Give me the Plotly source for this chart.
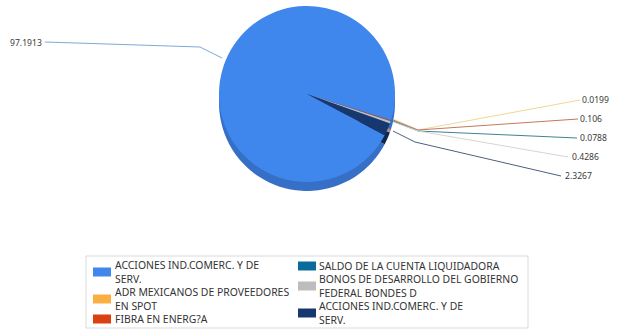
import plotly.graph_objects as go

W, H = 620, 329

# Data
categories = ["ACCIONES IND.COMERC. Y DE SERV.", "ADR MEXICANOS DE PROVEEDORES EN SPOT",
              "FIBRA EN ENERG?A", "SALDO DE LA CUENTA LIQUIDADORA",
              "BONOS DE DESARROLLO DEL GOBIERNO FEDERAL BONDES D",
              "ACCIONES IND.COMERC. Y DE SERV. "]
values = [97.1913, 0.0199, 0.106, 0.0788, 0.4286, 2.3267]
value_labels = ["97.1913", "0.0199", "0.106", "0.0788", "0.4286", "2.3267"]
legend_labels = ["ACCIONES IND.COMERC. Y DE<br>SERV.", "ADR MEXICANOS DE PROVEEDORES<br>EN SPOT",
                 "FIBRA EN ENERG?A", "SALDO DE LA CUENTA LIQUIDADORA",
                 "BONOS DE DESARROLLO DEL GOBIERNO<br>FEDERAL BONDES D",
                 "ACCIONES IND.COMERC. Y DE<br>SERV."]
colors = ["#3F87EC", "#F9B040", "#DC3F10", "#0B6B9A", "#BDBDBD", "#17386F"]
side_colors = ["#3570C6", "#D09030", "#B0320C", "#085478", "#999999", "#0F2850"]
line_colors = ["#7FA8D8", "#F3D595", "#C4785C", "#3F8294", "#D5D5D5", "#4E5F80"]

def px(x): return x / W
def py(y): return 1 - y / H

CX, CY, R, DEPTH = 307, 94, 88, 9
ROTATION = 118

def pie(colors_, cy):
    return go.Pie(labels=categories, values=values, sort=False, direction="clockwise",
                  rotation=ROTATION, marker=dict(colors=colors_, line=dict(width=0)),
                  textinfo="none", hoverinfo="label+value", showlegend=False,
                  domain=dict(x=[px(CX - R), px(CX + R)], y=[py(cy + R), py(cy - R)]))

fig = go.Figure([pie(side_colors, CY + DEPTH), pie(colors, CY)])

# Leader lines and value labels
leaders = [[(222, 58), (200, 47), (45, 42)],
           [(393, 119), (418, 130), (580, 100)],
           [(393, 120), (418, 130), (578, 119)],
           [(393, 121), (418, 131), (577, 138)],
           [(393, 122), (418, 131), (568, 157)],
           [(393, 131), (415, 142), (561, 176)]]
label_pos = [(44, 43, "right"), (580, 100, "left"), (578, 119, "left"),
             (578, 138, "left"), (570, 157, "left"), (563, 176, "left")]

shapes, annotations = [], []
FONT = "Noto Sans"
for pts, col in zip(leaders, line_colors):
    path = "M " + " L ".join(f"{px(x)},{py(y)}" for x, y in pts)
    shapes.append(dict(type="path", xref="paper", yref="paper", path=path,
                       line=dict(color=col, width=1), layer="above"))
for text, (x, y, anchor) in zip(value_labels, label_pos):
    annotations.append(dict(x=px(x), y=py(y), xref="paper", yref="paper", text=text, showarrow=False,
                            xanchor=anchor, yanchor="middle",
                            font=dict(family=FONT, size=8.6, color="#3A3A3A")))

# Legend box
shapes.append(dict(type="rect", xref="paper", yref="paper", x0=px(86), x1=px(528), y0=py(328), y1=py(256),
                   line=dict(color="#DADADA", width=1), fillcolor="white", layer="below"))
legend_swatches = [(93, 272), (93, 299), (93, 319), (298, 266), (298, 286), (298, 313)]
legend_text = [(114, 272), (114, 299), (114, 319), (318, 266), (318, 286), (318, 313)]
for (sx, sy), (tx, ty), col, lab in zip(legend_swatches, legend_text, colors, legend_labels):
    shapes.append(dict(type="rect", xref="paper", yref="paper", x0=px(sx), x1=px(sx + 18),
                       y0=py(sy + 4.5), y1=py(sy - 4.5), fillcolor=col, line=dict(width=0), layer="above"))
    annotations.append(dict(x=px(tx), y=py(ty), xref="paper", yref="paper", text=lab, showarrow=False,
                            xanchor="left", yanchor="middle", align="left", borderpad=0,
                            font=dict(family=FONT, size=10.4, color="#333333")))

fig.update_layout(width=W, height=H, margin=dict(l=0, r=0, t=0, b=0), autosize=False,
                  paper_bgcolor="white", shapes=shapes, annotations=annotations, showlegend=False)
fig.write_html("out.html", config=dict(displayModeBar=False),
               post_script="document.body.style.margin='0';document.body.style.overflow='hidden';")
